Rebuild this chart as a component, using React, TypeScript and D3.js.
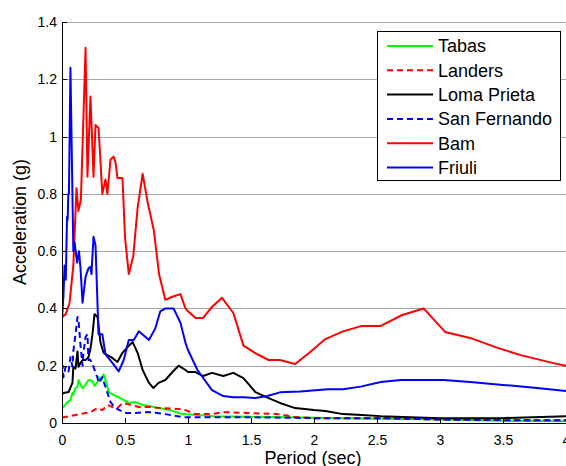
import React, { useEffect, useRef } from "react";
import * as d3 from "d3";

type P = [number, number];

const tabas: P[] = [[0,0.05],[0.012,0.056],[0.044,0.073],[0.067,0.08],[0.083,0.105],[0.09,0.1],[0.107,0.122],[0.123,0.126],[0.131,0.15],[0.147,0.133],[0.163,0.122],[0.187,0.133],[0.21,0.15],[0.242,0.147],[0.258,0.13],[0.282,0.143],[0.29,0.16],[0.313,0.15],[0.33,0.17],[0.353,0.14],[0.37,0.108],[0.41,0.098],[0.45,0.09],[0.49,0.08],[0.53,0.07],[0.58,0.073],[0.64,0.063],[0.69,0.059],[0.766,0.052],[0.86,0.045],[0.925,0.035],[0.96,0.031],[1.2,0.024],[1.5,0.022],[1.8,0.02],[2.2,0.017],[2.6,0.015],[3.0,0.012],[3.5,0.008],[4.0,0.006]];

const landers: P[] = [[0,0.02],[0.012,0.02],[0.107,0.028],[0.187,0.035],[0.226,0.038],[0.282,0.052],[0.32,0.045],[0.36,0.063],[0.4,0.056],[0.44,0.052],[0.48,0.07],[0.53,0.065],[0.61,0.056],[0.69,0.056],[0.8,0.052],[0.925,0.049],[0.98,0.045],[1.06,0.031],[1.19,0.031],[1.28,0.038],[1.47,0.035],[1.71,0.031],[1.85,0.021],[2.0,0.017],[2.53,0.017],[3.0,0.012],[3.5,0.01],[4.0,0.01]];

const lomaPrieta: P[] = [[0,0.1],[0.012,0.105],[0.052,0.108],[0.083,0.14],[0.09,0.196],[0.107,0.19],[0.123,0.25],[0.131,0.196],[0.147,0.21],[0.163,0.22],[0.187,0.22],[0.21,0.23],[0.226,0.26],[0.242,0.31],[0.258,0.38],[0.282,0.37],[0.306,0.28],[0.33,0.245],[0.36,0.237],[0.4,0.227],[0.44,0.213],[0.48,0.245],[0.52,0.265],[0.56,0.283],[0.6,0.245],[0.64,0.185],[0.69,0.14],[0.726,0.122],[0.766,0.14],[0.82,0.15],[0.877,0.178],[0.925,0.2],[0.98,0.185],[1.0,0.178],[1.06,0.178],[1.12,0.164],[1.19,0.175],[1.28,0.164],[1.36,0.175],[1.44,0.157],[1.535,0.108],[1.64,0.087],[1.73,0.07],[1.85,0.052],[2.0,0.045],[2.09,0.042],[2.23,0.031],[2.38,0.028],[2.53,0.024],[3.0,0.017],[3.48,0.017],[4.0,0.024]];

const sanFernando: P[] = [[0,0.12],[0.005,0.2],[0.012,0.16],[0.028,0.196],[0.052,0.18],[0.067,0.23],[0.083,0.196],[0.09,0.25],[0.107,0.31],[0.123,0.37],[0.131,0.36],[0.147,0.27],[0.163,0.2],[0.17,0.245],[0.187,0.3],[0.202,0.31],[0.21,0.22],[0.226,0.22],[0.25,0.196],[0.282,0.157],[0.29,0.14],[0.32,0.16],[0.345,0.126],[0.385,0.073],[0.425,0.052],[0.5,0.035],[0.58,0.035],[0.69,0.038],[0.82,0.031],[0.96,0.02],[1.2,0.02],[1.5,0.02],[2.0,0.017],[2.5,0.017],[3.0,0.012],[3.5,0.01],[4.0,0.01]];

const bam: P[] = [[0,0.37],[0.03,0.38],[0.06,0.42],[0.09,0.55],[0.115,0.82],[0.13,0.74],[0.15,0.78],[0.187,1.31],[0.202,0.86],[0.226,1.14],[0.25,0.86],[0.266,1.04],[0.29,1.03],[0.32,0.8],[0.345,0.85],[0.36,0.8],[0.385,0.92],[0.41,0.93],[0.425,0.91],[0.44,0.855],[0.48,0.855],[0.5,0.65],[0.53,0.52],[0.565,0.58],[0.6,0.75],[0.64,0.87],[0.68,0.77],[0.73,0.67],[0.77,0.52],[0.82,0.43],[0.87,0.44],[0.94,0.45],[0.98,0.4],[1.0,0.39],[1.06,0.367],[1.12,0.367],[1.19,0.405],[1.27,0.437],[1.36,0.384],[1.44,0.27],[1.55,0.24],[1.64,0.22],[1.73,0.22],[1.85,0.206],[1.97,0.248],[2.09,0.293],[2.23,0.32],[2.38,0.339],[2.53,0.339],[2.7,0.377],[2.87,0.4],[3.04,0.318],[3.24,0.297],[3.44,0.265],[3.64,0.237],[3.9,0.209],[4.0,0.2]];

const friuli: P[] = [[0,0.36],[0.012,0.45],[0.02,0.55],[0.03,0.5],[0.04,0.72],[0.045,0.71],[0.05,0.8],[0.055,0.8],[0.067,1.24],[0.09,0.6],[0.1,0.63],[0.12,0.56],[0.135,0.6],[0.147,0.54],[0.163,0.42],[0.187,0.51],[0.21,0.54],[0.226,0.545],[0.234,0.52],[0.25,0.65],[0.266,0.62],[0.29,0.31],[0.32,0.31],[0.345,0.24],[0.4,0.21],[0.45,0.18],[0.49,0.22],[0.53,0.29],[0.57,0.29],[0.61,0.32],[0.69,0.29],[0.74,0.33],[0.78,0.39],[0.82,0.4],[0.885,0.4],[0.94,0.35],[0.98,0.28],[1.0,0.255],[1.075,0.185],[1.19,0.115],[1.28,0.094],[1.36,0.09],[1.44,0.09],[1.535,0.087],[1.63,0.094],[1.73,0.107],[1.89,0.11],[2.11,0.118],[2.23,0.118],[2.37,0.127],[2.53,0.143],[2.69,0.15],[3.03,0.15],[3.24,0.143],[3.5,0.133],[3.77,0.122],[4.0,0.112]];

const seriesNames = ["Tabas", "Landers", "Loma Prieta", "San Fernando", "Bam", "Friuli"];
const seriesData = [tabas, landers, lomaPrieta, sanFernando, bam, friuli];
const seriesColors = ["#00ff00", "#ff0000", "#000000", "#0000ff", "#ff0000", "#0000ff"];
const seriesDashed = [false, true, false, true, false, false];

const xTicks = [0, 0.5, 1, 1.5, 2, 2.5, 3, 3.5, 4];
const yTicks = [0, 0.2, 0.4, 0.6, 0.8, 1, 1.2, 1.4];

export default function App() {
  const ref = useRef<SVGSVGElement>(null);

  useEffect(() => {
    document.body.style.margin = "0";
    const svg = d3.select(ref.current);
    svg.selectAll("*").remove();
    const W = 566, H = 466;
    const left = 62, bottom = 423, top = 22, right = 566;
    const x = d3.scaleLinear().domain([0, 4]).range([left, left + 504]);
    const y = d3.scaleLinear().domain([0, 1.4]).range([bottom, top]);
    const font = "Arial, 'Liberation Sans', sans-serif";

    svg.append("rect").attr("width", W).attr("height", H).attr("fill", "#fff");

    // gridlines
    svg.append("g").selectAll("line").data(yTicks.filter(t => t > 0)).join("line")
      .attr("x1", left).attr("x2", right)
      .attr("y1", d => Math.round(y(d)) + 0.5).attr("y2", d => Math.round(y(d)) + 0.5)
      .attr("stroke", "#a6a6a6").attr("stroke-width", 1);

    // lines
    svg.append("clipPath").attr("id", "clip").append("rect")
      .attr("x", left).attr("y", top - 2).attr("width", right - left).attr("height", bottom - top + 2);
    const lineGen = d3.line<P>().x(d => x(d[0])).y(d => y(d[1]));
    const g = svg.append("g").attr("clip-path", "url(#clip)");
    seriesData.forEach((data, i) => {
      g.append("path").attr("d", lineGen(data) as string)
        .attr("fill", "none").attr("stroke", seriesColors[i]).attr("stroke-width", 2)
        .attr("stroke-linejoin", "round")
        .attr("stroke-dasharray", seriesDashed[i] ? "6,4" : null);
    });

    // axes lines
    svg.append("line").attr("x1", left + 0.5).attr("x2", left + 0.5).attr("y1", top).attr("y2", bottom + 0.5)
      .attr("stroke", "#000").attr("stroke-width", 1);
    svg.append("line").attr("x1", left).attr("x2", right).attr("y1", bottom + 0.5).attr("y2", bottom + 0.5)
      .attr("stroke", "#000").attr("stroke-width", 1);

    // y ticks
    const yt = svg.append("g");
    yTicks.forEach(t => {
      const yy = Math.round(y(t)) + 0.5;
      yt.append("line").attr("x1", left).attr("x2", left + 5).attr("y1", yy).attr("y2", yy).attr("stroke", "#000");
      yt.append("text").attr("x", left - 5).attr("y", yy).attr("dy", "0.35em")
        .attr("text-anchor", "end").attr("font-family", font).attr("font-size", 14).text(String(t));
    });
    // x ticks
    const xt = svg.append("g");
    xTicks.forEach(t => {
      const xx = Math.round(x(t)) + 0.5;
      xt.append("line").attr("x1", xx).attr("x2", xx).attr("y1", bottom).attr("y2", bottom - 5).attr("stroke", "#000");
      xt.append("text").attr("x", xx).attr("y", bottom + 22)
        .attr("text-anchor", "middle").attr("font-family", font).attr("font-size", 14).text(String(t));
    });

    svg.append("text").attr("x", 313).attr("y", 464).attr("text-anchor", "middle")
      .attr("font-family", font).attr("font-size", 18).text("Period (sec)");
    svg.append("text").attr("transform", "translate(26,222) rotate(-90)").attr("text-anchor", "middle")
      .attr("font-family", font).attr("font-size", 18).text("Acceleration (g)");

    // legend
    const lg = svg.append("g");
    lg.append("rect").attr("x", 377.5).attr("y", 31.5).attr("width", 183).attr("height", 149)
      .attr("fill", "#fff").attr("stroke", "#000").attr("stroke-width", 1);
    seriesNames.forEach((n, i) => {
      const yy = 46 + i * 24.3;
      lg.append("line").attr("x1", 387).attr("x2", 433).attr("y1", yy).attr("y2", yy)
        .attr("stroke", seriesColors[i]).attr("stroke-width", 2)
        .attr("stroke-dasharray", seriesDashed[i] ? "6,4" : null);
      lg.append("text").attr("x", 438).attr("y", yy).attr("dy", "0.35em")
        .attr("font-family", font).attr("font-size", 18).text(n);
    });
  }, []);

  return <svg ref={ref} width={566} height={466} style={{ display: "block" }} />;
}
